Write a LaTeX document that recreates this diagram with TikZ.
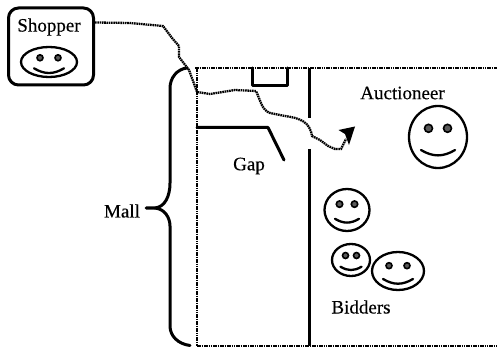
\documentclass[tikz,border=0pt]{standalone}
\usepackage{fontspec}
\setmainfont[FakeBold=0.3]{Liberation Serif}
\tikzset{
  px/.style={x=1pt,y=-1pt},
  solidline/.style={line width=3pt,black,line cap=round,line join=round},
  thinsolid/.style={line width=2.3pt,black,line cap=round},
  dotline/.style={line width=2.6pt,black,dash pattern=on 1.6pt off 0.7pt},
  label/.style={font=\fontsize{19}{21}\selectfont,inner sep=0pt,text=black},
  eye/.style={fill=black!65,draw=black,line width=1.6pt},
}
\newcommand{\smiley}[7]{%
  % cx cy rx ry eye-dx eye-r smile-half
  \draw[thinsolid] (#1,#2) ellipse [x radius=#3,y radius=#4];
  \filldraw[eye] (#1-#5,#2-0.28*#4) circle [radius=#6];
  \filldraw[eye] (#1+#5,#2-0.28*#4) circle [radius=#6];
  \draw[thinsolid] (#1-#7,#2+0.42*#4) .. controls (#1-0.3*#7,#2+0.42*#4+#7*0.42) and (#1+0.3*#7,#2+0.42*#4+#7*0.42) .. (#1+#7,#2+0.42*#4);
}
\begin{document}
\begin{tikzpicture}[px]
\useasboundingbox (0,0) rectangle (497,347);
% mall outline
\draw[dotline] (195,68) -- (497,68);
\draw[dotline] (197,68) -- (197,346);
\draw[dotline,line width=1.8pt] (197,346) -- (497,346);
% stall
\draw[solidline] (252.5,68) -- (252.5,85.5) -- (287.5,85.5) -- (287.5,68);
% wall
\coordinate (walltop) at (309.5,68);
\coordinate (wallgapa) at (309.5,118);
\coordinate (wallgapb) at (309.5,149);
\coordinate (wallbot) at (309.5,346);
\draw[line width=3pt] (walltop) -- (wallgapa);
\draw[line width=3pt] (wallgapb) -- (wallbot);
% gap
\draw[solidline] (197,127.5) -- (268,127.5) -- (284,160);
% brace
\draw[solidline] (187,68) .. controls (177,69) and (170,78) .. (170,88) -- (170,183)
  .. controls (170,196) and (165,207) .. (155,208) -- (146,208);
\draw[solidline] (155,208) .. controls (165,209) and (170,218) .. (170,226) -- (170,326)
  .. controls (170,336) and (178,344) .. (190,345.5);
% shopper
\node[draw,solidline,rounded corners=10pt,minimum width=85pt,minimum height=77pt,inner sep=0pt] (shopper) at (51,46.5) {};
\node[label] (shopperlabel) at (49,27) {Shopper};
\smiley{49}{62}{28}{15}{9}{3}{15}
% labels
\node[label] (gaplabel) at (249,166) {Gap};
\node[label] (auclabel) at (402.5,93) {Auctioneer};
\node[label] (malllabel) at (122,211) {Mall};
\node[label] (bidlabel) at (361,307) {Bidders};
% faces
\smiley{438}{137}{29}{31}{9.5}{4}{17}
\smiley{347}{210}{22.5}{21}{7.5}{3.2}{12}
\smiley{351}{260}{19}{16}{5.5}{3}{10.5}
\smiley{398}{271}{26}{19}{9}{3}{15}
% route
\coordinate (arrowtip) at (355,126.5);
\draw[dotline,line width=2.3pt] (shopper.east) ++(0,-24) -- (130,23) -- (163,26) -- (172,38) -- (179,46) -- (179,57) -- (189,70) -- (197,92) -- (210,94) -- (235,90) -- (256,91)
  .. controls (261,102) and (262,110) .. (270,113) -- (285,116) .. controls (300,118) and (310,122) .. (312,136) -- (320,140) -- (328,146) -- (335,149) -- (341,149) -- (346,139);
\fill (arrowtip) -- (338.5,130) -- (345,134) -- (349,145) -- cycle;
\end{tikzpicture}
\end{document}
